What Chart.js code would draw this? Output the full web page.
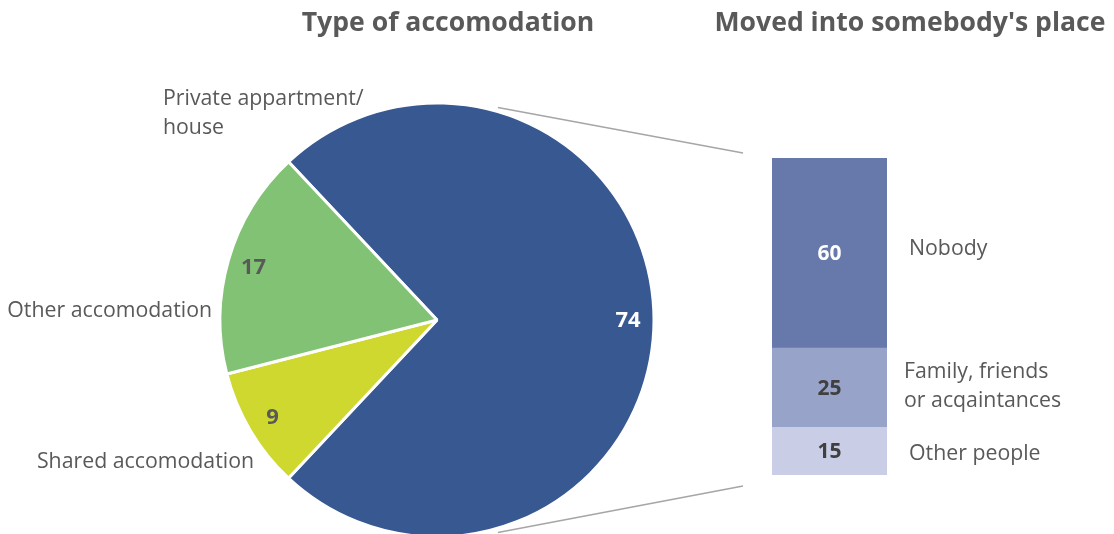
<!DOCTYPE html>
<html>
<head>
<meta charset="utf-8">
<script src="https://cdn.jsdelivr.net/npm/chart.js@4.4.1/dist/chart.umd.min.js"></script>
<style>
html, body { margin: 0; padding: 0; background: #fff; }
#wrap { position: relative; width: 1114px; height: 534px; overflow: hidden; }
#wrap canvas { position: absolute; left: 0; top: 0; }
</style>
</head>
<body>
<div id="wrap">
  <canvas id="pie" width="1114" height="534"></canvas>
  <canvas id="bar" width="1114" height="534"></canvas>
</div>
<script>
// data
var pieTitle = 'Type of accomodation';
var pieLabels = ['Private appartment/\nhouse', 'Shared accomodation', 'Other accomodation'];
var pieValues = [74, 9, 17];

var barTitle = "Moved into somebody's place";
var barLabels = ['Other people', 'Family, friends\nor acqaintances', 'Nobody'];
var barValues = [15, 25, 60];

// styles
var pieColors = ['#375891', '#CFD82E', '#82C274'];
var pieValueColors = ['#ffffff', '#595959', '#595959'];
var barColors = ['#C9CDE5', '#97A3C9', '#6779AA'];
var barValueColors = ['#404040', '#404040', '#ffffff'];
var textColor = '#595959';
var fontFamily = '"Open Sans", "Noto Sans", sans-serif';
var labelFont = '21.3px ' + fontFamily;
var pieValueFont = 'bold 22px ' + fontFamily;
var barValueFont = 'bold 21px ' + fontFamily;
var titleFont = 'bold 26.6px ' + fontFamily;

// where the outside pie labels sit, relative to the pie centre
var pieLabelPos = [
    {dx: -274, dy: -221, align: 'left'},
    {dx: -183, dy: 142, align: 'right'},
    {dx: -225, dy: -9, align: 'right'}
];
var barLabelGap = [22, 17, 22];
var barLabelShift = [3, -1, -4];

drawLines = function(ctx, text, x, y, lh) {
    var lines = text.split('\n');
    var y0 = y - (lines.length - 1) * lh / 2;
    lines.forEach(function(l, i) {
        ctx.fillText(l, x, y0 + i * lh);
    });
}

var piePlugin = {
    id: 'pieText',
    afterDatasetsDraw: function(chart) {
        var ctx = chart.ctx;
        var arcs = chart.getDatasetMeta(0).data;
        ctx.save();
        ctx.textBaseline = 'middle';
        ctx.textAlign = 'center';
        ctx.font = pieValueFont;
        arcs.forEach(function(arc, i) {
            var mid = (arc.startAngle + arc.endAngle) / 2;
            var r = arc.outerRadius * 0.88;
            ctx.fillStyle = pieValueColors[i];
            ctx.fillText(pieValues[i], arc.x + Math.cos(mid) * r, arc.y + Math.sin(mid) * r + 1);
        });
        ctx.font = labelFont;
        ctx.fillStyle = textColor;
        var c = arcs[0];
        arcs.forEach(function(arc, i) {
            var p = pieLabelPos[i];
            ctx.textAlign = p.align;
            var lines = pieLabels[i].split('\n');
            lines.forEach(function(l, k) {
                ctx.fillText(l, c.x + p.dx, c.y + p.dy + k * 29);
            });
        });
        // title
        ctx.font = titleFont;
        ctx.textAlign = 'center';
        ctx.fillText(pieTitle, 448, 23);
        ctx.restore();
    }
};

var pieChart = new Chart(document.getElementById('pie').getContext('2d'), {
    type: 'pie',
    data: {
        labels: pieLabels,
        datasets: [{
            data: pieValues,
            backgroundColor: pieColors,
            borderColor: '#ffffff',
            borderWidth: 3
        }]
    },
    options: {
        responsive: false,
        animation: false,
        rotation: -43.2,
        radius: 217,
        layout: {padding: {left: 219, right: 459, top: 106, bottom: 0}},
        plugins: {legend: {display: false}, tooltip: {enabled: false}}
    },
    plugins: [piePlugin]
});

var barPlugin = {
    id: 'barText',
    afterDatasetsDraw: function(chart) {
        var ctx = chart.ctx;
        ctx.save();
        ctx.textBaseline = 'middle';
        var top = null, bottom = null, left = null;
        chart.data.datasets.forEach(function(ds, i) {
            var bar = chart.getDatasetMeta(i).data[0];
            var cy = (bar.y + bar.base) / 2;
            var half = bar.width / 2;
            ctx.textAlign = 'center';
            ctx.font = barValueFont;
            ctx.fillStyle = barValueColors[i];
            ctx.fillText(barValues[i], bar.x, cy + 1);
            ctx.textAlign = 'left';
            ctx.font = labelFont;
            ctx.fillStyle = textColor;
            drawLines(ctx, barLabels[i], bar.x + half + barLabelGap[i], cy + barLabelShift[i], 29);
            top = top === null ? bar.y : Math.min(top, bar.y);
            bottom = bottom === null ? bar.base : Math.max(bottom, bar.base);
            left = bar.x - half;
        });
        // connector lines from the pie edge to the bar
        var arc = pieChart.getDatasetMeta(0).data[0];
        var a = 74 * Math.PI / 180;
        var r = arc.outerRadius + 4;
        ctx.strokeStyle = '#A6A6A6';
        ctx.lineWidth = 1.6;
        ctx.beginPath();
        ctx.moveTo(arc.x + Math.cos(a) * r, arc.y - Math.sin(a) * r);
        ctx.lineTo(left - 29, top - 5);
        ctx.moveTo(arc.x + Math.cos(a) * r, arc.y + Math.sin(a) * r);
        ctx.lineTo(left - 29, bottom + 11);
        ctx.stroke();
        // title
        ctx.font = titleFont;
        ctx.textAlign = 'center';
        ctx.fillStyle = textColor;
        ctx.fillText(barTitle, 910, 23);
        ctx.restore();
    }
};

var barChart = new Chart(document.getElementById('bar').getContext('2d'), {
    type: 'bar',
    data: {
        labels: [''],
        datasets: barValues.map(function(v, i) {
            return {
                label: barLabels[i],
                data: [v],
                backgroundColor: barColors[i],
                borderWidth: 0,
                barPercentage: 1,
                categoryPercentage: 1
            };
        })
    },
    options: {
        responsive: false,
        animation: false,
        layout: {padding: {left: 772, right: 227, top: 158, bottom: 59}},
        scales: {
            x: {stacked: true, display: false},
            y: {stacked: true, display: false, min: 0, max: 100}
        },
        plugins: {legend: {display: false}, tooltip: {enabled: false}}
    },
    plugins: [barPlugin]
});
</script>
</body>
</html>
